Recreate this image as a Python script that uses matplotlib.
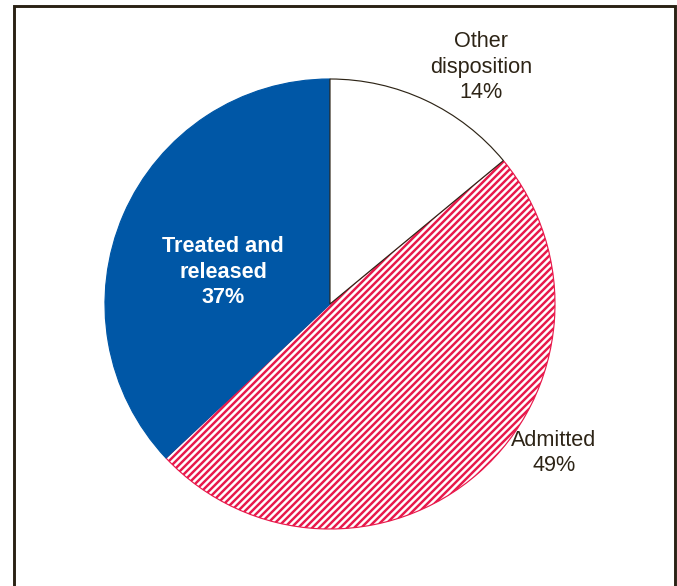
import matplotlib.pyplot as plt
from matplotlib.lines import Line2D

plt.rcParams["font.family"] = ["Liberation Sans", "DejaVu Sans"]
plt.rcParams["hatch.linewidth"] = 2.1

labels = ["Other\ndisposition", "Admitted", "Treated and\nreleased"]
shares = [14, 49, 37]

TEXT = "#2d2416"
FACES = ["white", "white", "#0057a6"]
EDGES = [TEXT, "#e8194b", "#0057a6"]
HATCHES = [None, "////", None]

DPI = 84
W, H = 677, 586
fig = plt.figure(figsize=(W / DPI, H / DPI), dpi=DPI)

cx, cy, r = 330, 304, 225
ax = fig.add_axes([(cx - r) / W, (H - cy - r) / H, 2 * r / W, 2 * r / H])

wedges, _ = ax.pie(shares, startangle=90, counterclock=False, radius=1)
for w, fc, ec, h in zip(wedges, FACES, EDGES, HATCHES):
    w.set_facecolor(fc)
    w.set_edgecolor(ec)
    w.set_linewidth(1.0)
    if h:
        w.set_hatch(h)
wedges[0].set_zorder(5)
ax.set_aspect("equal")
ax.set_xlim(-1, 1)
ax.set_ylim(-1, 1)
ax.axis("off")

def px(x, y):
    return ((x - cx) / r, (cy - y) / r)

fs = 18.5
ls = 1.3
ax.text(*px(481, 67), f"{labels[0]}\n{shares[0]}%", ha="center", va="center",
        fontsize=fs, color=TEXT, linespacing=ls)
ax.text(*px(554, 453), f"{labels[1]}\n{shares[1]}%", ha="center", va="center",
        fontsize=fs, color=TEXT, linespacing=ls)
ax.text(*px(223, 272), f"{labels[2]}\n{shares[2]}%", ha="center", va="center",
        fontsize=fs, color="white", fontweight="bold", linespacing=ls)

# frame open at the bottom
fc = "#2a2214"
x0, x1, y0 = 13.5 / W, 675 / W, 1 - 6 / H
fig.add_artist(Line2D([x0, x0, x1, x1], [0, y0, y0, 0], color=fc, lw=2.5,
                      transform=fig.transFigure, solid_joinstyle="miter"))

fig.savefig("out.png", dpi=DPI)
